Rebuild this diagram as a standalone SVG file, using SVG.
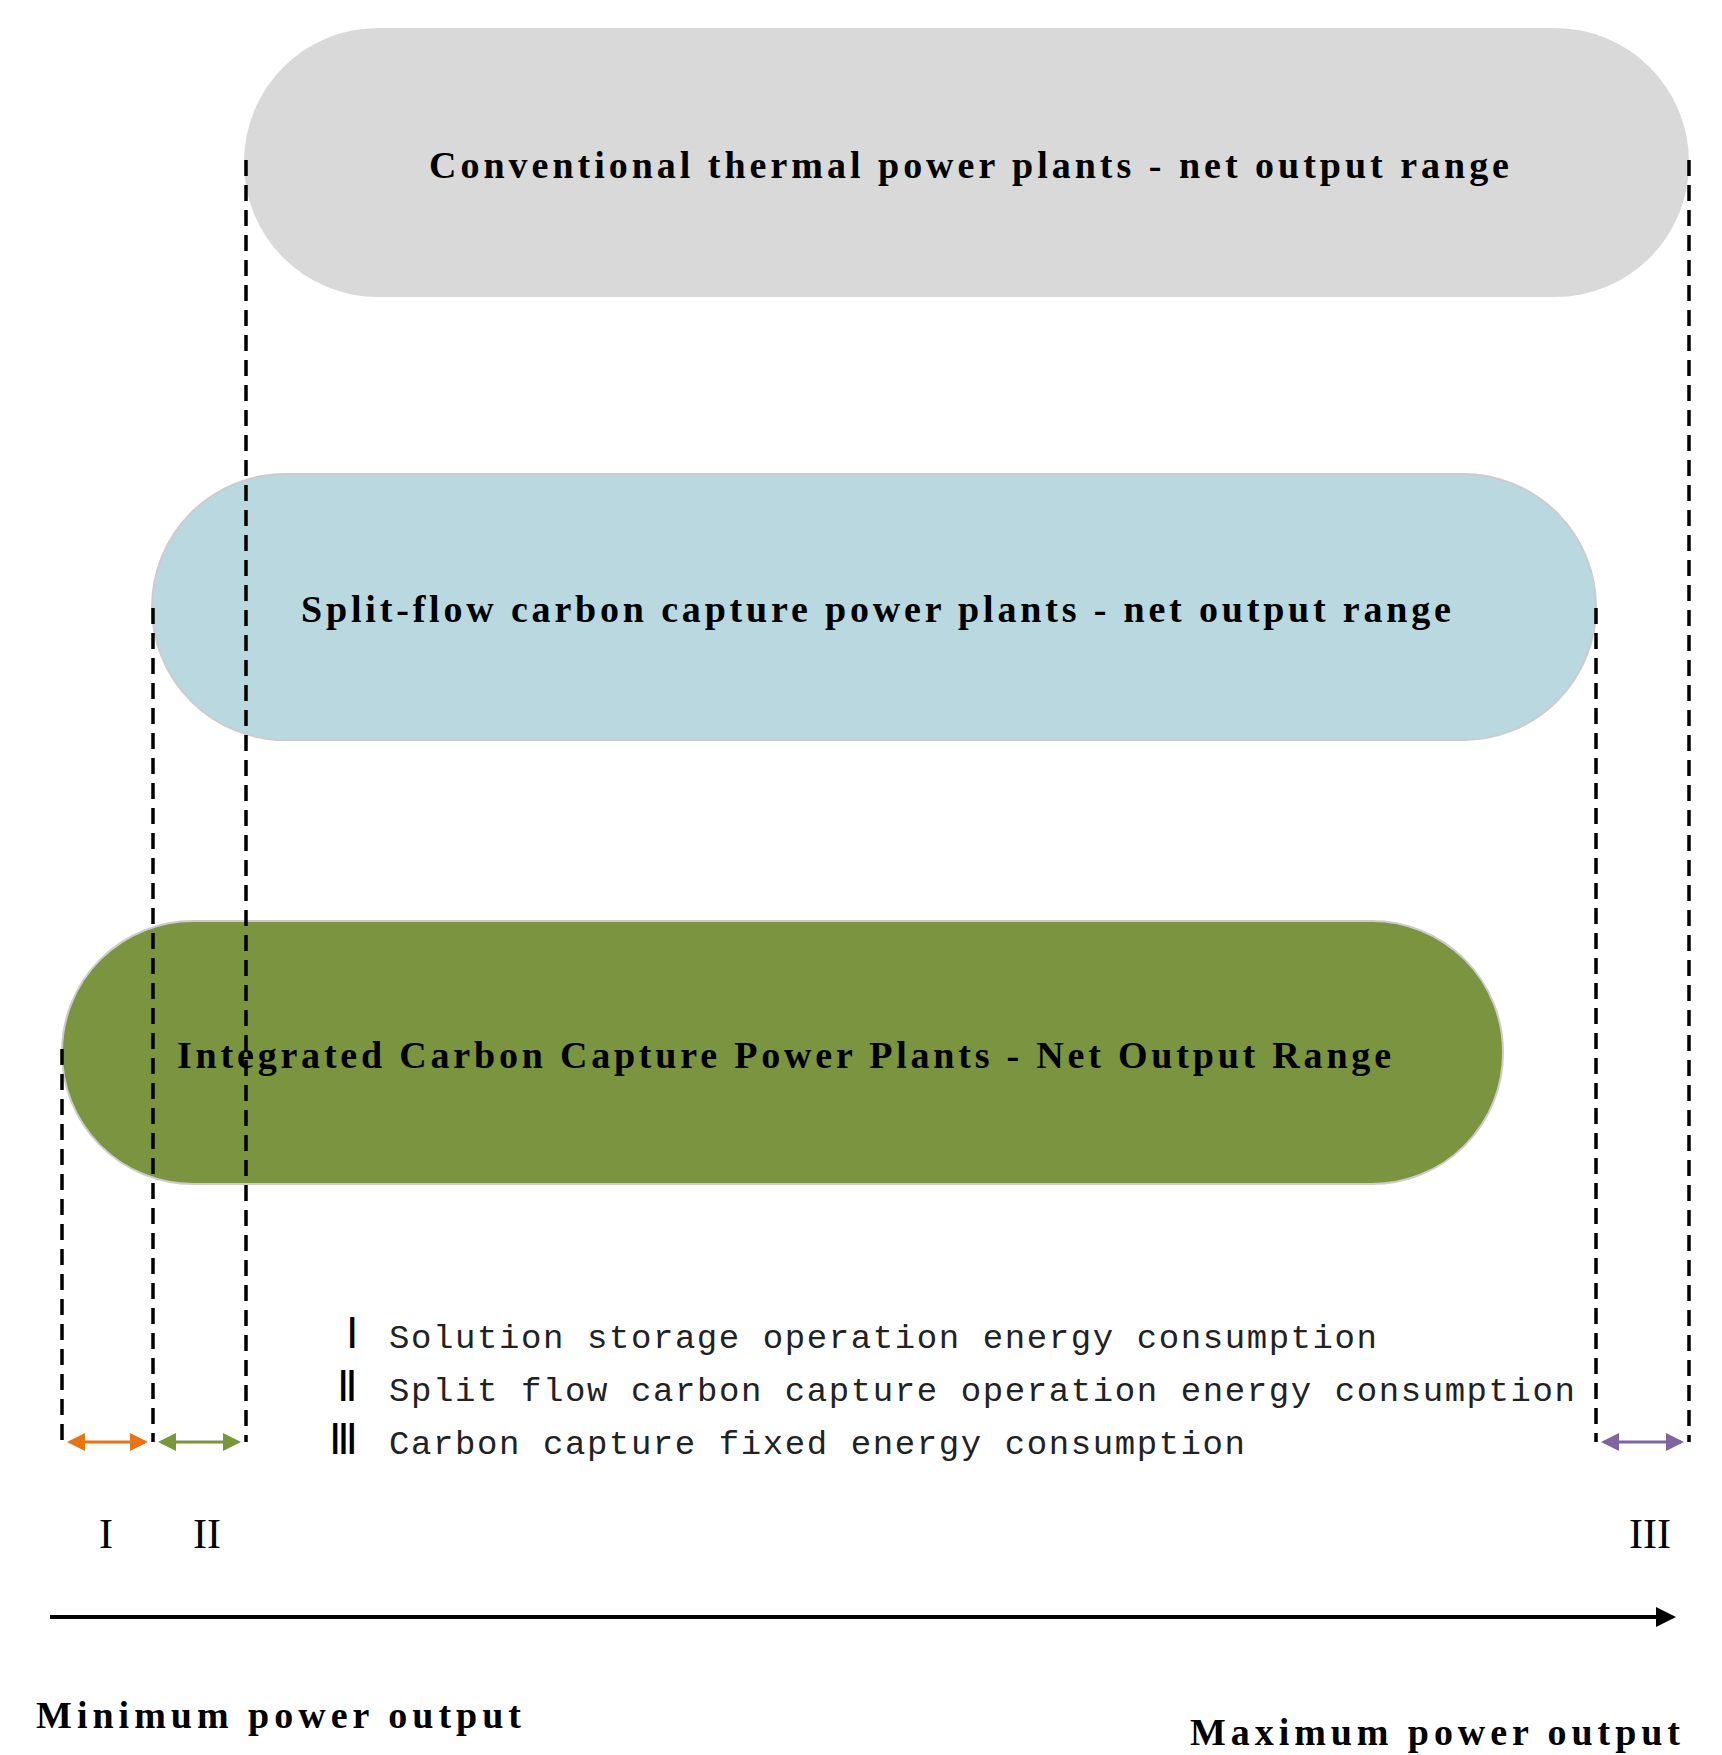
<svg xmlns="http://www.w3.org/2000/svg" width="1722" height="1755" viewBox="0 0 1722 1755">
<defs>
<style>
.t{font-family:"Liberation Serif",serif;font-weight:bold;font-size:38px;fill:#000}
.d{stroke:#000;stroke-width:3.5;stroke-dasharray:16 9;fill:none}
.l{font-family:"Liberation Mono","Noto Sans CJK SC",monospace;font-size:34px;fill:#222}
.n{font-family:"Liberation Serif",serif;font-size:42px;fill:#000}
</style>
<marker id="ao" markerWidth="6" markerHeight="6" refX="5" refY="3" orient="auto-start-reverse" markerUnits="strokeWidth"><path d="M0,0L6,3L0,6z" fill="#e87414"/></marker>
<marker id="ag" markerWidth="6" markerHeight="6" refX="5" refY="3" orient="auto-start-reverse" markerUnits="strokeWidth"><path d="M0,0L6,3L0,6z" fill="#78963c"/></marker>
<marker id="ap" markerWidth="6" markerHeight="6" refX="5" refY="3" orient="auto-start-reverse" markerUnits="strokeWidth"><path d="M0,0L6,3L0,6z" fill="#8064a2"/></marker>
<marker id="ak" markerWidth="5" markerHeight="5" refX="4" refY="2.5" orient="auto" markerUnits="strokeWidth"><path d="M0,0L5,2.5L0,5z" fill="#000"/></marker>
</defs>
<g id="conventional"><rect x="244" y="28" width="1445" height="269" rx="134" fill="#d9d9d9"/><text class="t" x="969" y="178" text-anchor="middle" textLength="1080">Conventional thermal power plants - net output range</text></g>
<g id="splitflow"><rect x="152" y="474" width="1444" height="266" rx="133" fill="#b9d8e0" stroke="#cccccc" stroke-width="2"/><text class="t" x="876" y="622" text-anchor="middle" textLength="1150">Split-flow carbon capture power plants - net output range</text></g>
<g id="integrated"><rect x="62" y="921" width="1441" height="263" rx="131" fill="#7a9440" stroke="#cccccc" stroke-width="2"/><text class="t" x="784" y="1068" text-anchor="middle" textLength="1214">Integrated Carbon Capture Power Plants - Net Output Range</text></g>
<g id="connectors">
<path class="d" d="M246 160V1442M1689 160V1442M153 608V1442M1596 608V1442M62 1049V1442"/>
<line x1="70" y1="1442" x2="145" y2="1442" stroke="#e87414" stroke-width="3" marker-start="url(#ao)" marker-end="url(#ao)"/>
<line x1="161" y1="1442" x2="238" y2="1442" stroke="#78963c" stroke-width="3" marker-start="url(#ag)" marker-end="url(#ag)"/>
<line x1="1604" y1="1442" x2="1681" y2="1442" stroke="#8064a2" stroke-width="3" marker-start="url(#ap)" marker-end="url(#ap)"/>
<line x1="50" y1="1617" x2="1672" y2="1617" stroke="#000" stroke-width="4" marker-end="url(#ak)"/>
</g>
<g id="legend">
<text class="n" x="358" y="1348" text-anchor="end" font-size="38">Ⅰ</text>
<text class="n" x="358" y="1401" text-anchor="end" font-size="38">Ⅱ</text>
<text class="n" x="358" y="1454" text-anchor="end" font-size="38">Ⅲ</text>
<text class="l" x="389" y="1348" textLength="988">Solution storage operation energy consumption</text>
<text class="l" x="389" y="1401" textLength="1186">Split flow carbon capture operation energy consumption</text>
<text class="l" x="389" y="1454" textLength="856">Carbon capture fixed energy consumption</text>
</g>
<g id="labels">
<text class="n" x="106" y="1548" text-anchor="middle">I</text>
<text class="n" x="207" y="1548" text-anchor="middle">II</text>
<text class="n" x="1650" y="1548" text-anchor="middle">III</text>
<text class="t" x="36" y="1728" textLength="485">Minimum power output</text>
<text class="t" x="1680" y="1745" text-anchor="end" textLength="490">Maximum power output</text>
</g>
</svg>
